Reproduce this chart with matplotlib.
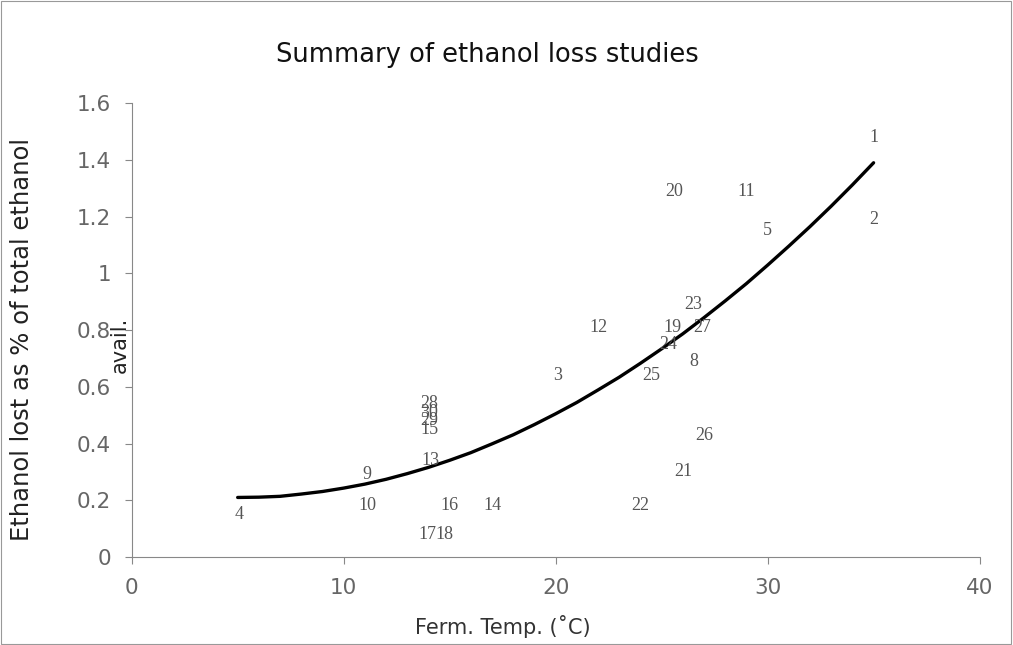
import matplotlib
matplotlib.use("Agg")
import matplotlib.pyplot as plt
from matplotlib.patches import Rectangle
from matplotlib.ticker import FuncFormatter

# ---- data ----
study_ids = ["1", "2", "3", "4", "5", "8", "9", "10", "11", "12", "13", "14",
             "16", "17", "18", "28", "30", "29", "15", "19", "27", "20", "21",
             "22", "23", "24", "25", "26"]
temp_c = [35.0, 35.0, 20.1, 5.05, 30.0, 26.5, 11.1, 11.1, 29.0, 22.0, 14.1, 17.0,
          15.0, 13.95, 14.75, 14.05, 14.05, 14.05, 14.05, 25.5, 26.9, 25.6, 26.0,
          24.0, 26.5, 25.3, 24.5, 27.0]
loss_pct = [1.48, 1.19, 0.64, 0.15, 1.15, 0.69, 0.29, 0.18, 1.29, 0.81, 0.34, 0.18,
            0.18, 0.08, 0.08, 0.54, 0.51, 0.48, 0.45, 0.81, 0.81, 1.29, 0.30,
            0.18, 0.89, 0.75, 0.64, 0.43]

# trendline (every 1 degC)
trend_x = [5, 6, 7, 8, 9, 10, 11, 12, 13, 14, 15, 16, 17, 18, 19, 20,
           21, 22, 23, 24, 25, 26, 27, 28, 29, 30, 31, 32, 33, 34, 35]
trend_y = [0.210, 0.211, 0.214, 0.222, 0.231, 0.243, 0.257, 0.274, 0.294, 0.316,
           0.341, 0.368, 0.399, 0.431, 0.467, 0.505, 0.545, 0.589, 0.634, 0.683,
           0.734, 0.787, 0.844, 0.903, 0.964, 1.029, 1.096, 1.165, 1.237, 1.312,
           1.390]

x_ticks = [0, 10, 20, 30, 40]
y_ticks = [0, 0.2, 0.4, 0.6, 0.8, 1.0, 1.2, 1.4, 1.6]

# ---- figure ----
fig = plt.figure(figsize=(10.13, 6.45), dpi=100)
ax = fig.add_axes([0.130, 0.1364, 0.837, 0.7036])

ax.plot(trend_x, trend_y, color="black", lw=2.4, solid_capstyle="round",
        solid_joinstyle="round")

for lab, xv, yv in zip(study_ids, temp_c, loss_pct):
    ax.text(xv, yv, lab, ha="center", va="center", fontsize=13,
            family="Liberation Serif", color="#555555")

ax.set_xlim(0, 40)
ax.set_ylim(0, 1.6)
ax.set_xticks(x_ticks)
ax.set_yticks(y_ticks)
ax.yaxis.set_major_formatter(FuncFormatter(lambda v, p: "%g" % round(v, 1)))

for s in ["top", "right"]:
    ax.spines[s].set_visible(False)
for s in ["left", "bottom"]:
    ax.spines[s].set_color("#888888")
    ax.spines[s].set_linewidth(0.8)
    ax.spines[s].set_linestyle((0, (1, 1)))

ax.tick_params(axis="both", direction="out", length=5, width=0.8,
               color="#888888", labelsize=15.5, labelcolor="#666666", pad=10)

fig.text(0.481, 0.915, "Summary of ethanol loss studies", ha="center",
         va="center", fontsize=18.5, color="#111111")
fig.text(0.496, 0.028, "Ferm. Temp. (˚C)", ha="center", va="center",
         fontsize=15, color="#333333")
fig.text(0.022, 0.473, "Ethanol lost as % of total ethanol", ha="center",
         va="center", rotation=90, fontsize=17.5, color="#222222")
fig.text(0.118, 0.465, "avail.", ha="center", va="center", rotation=90,
         fontsize=15, color="#222222")

fig.patches.append(Rectangle((0.001, 0.001), 0.997, 0.997, transform=fig.transFigure,
                             fill=False, edgecolor="#999999", lw=0.8))

fig.savefig("out.png", dpi=100)
